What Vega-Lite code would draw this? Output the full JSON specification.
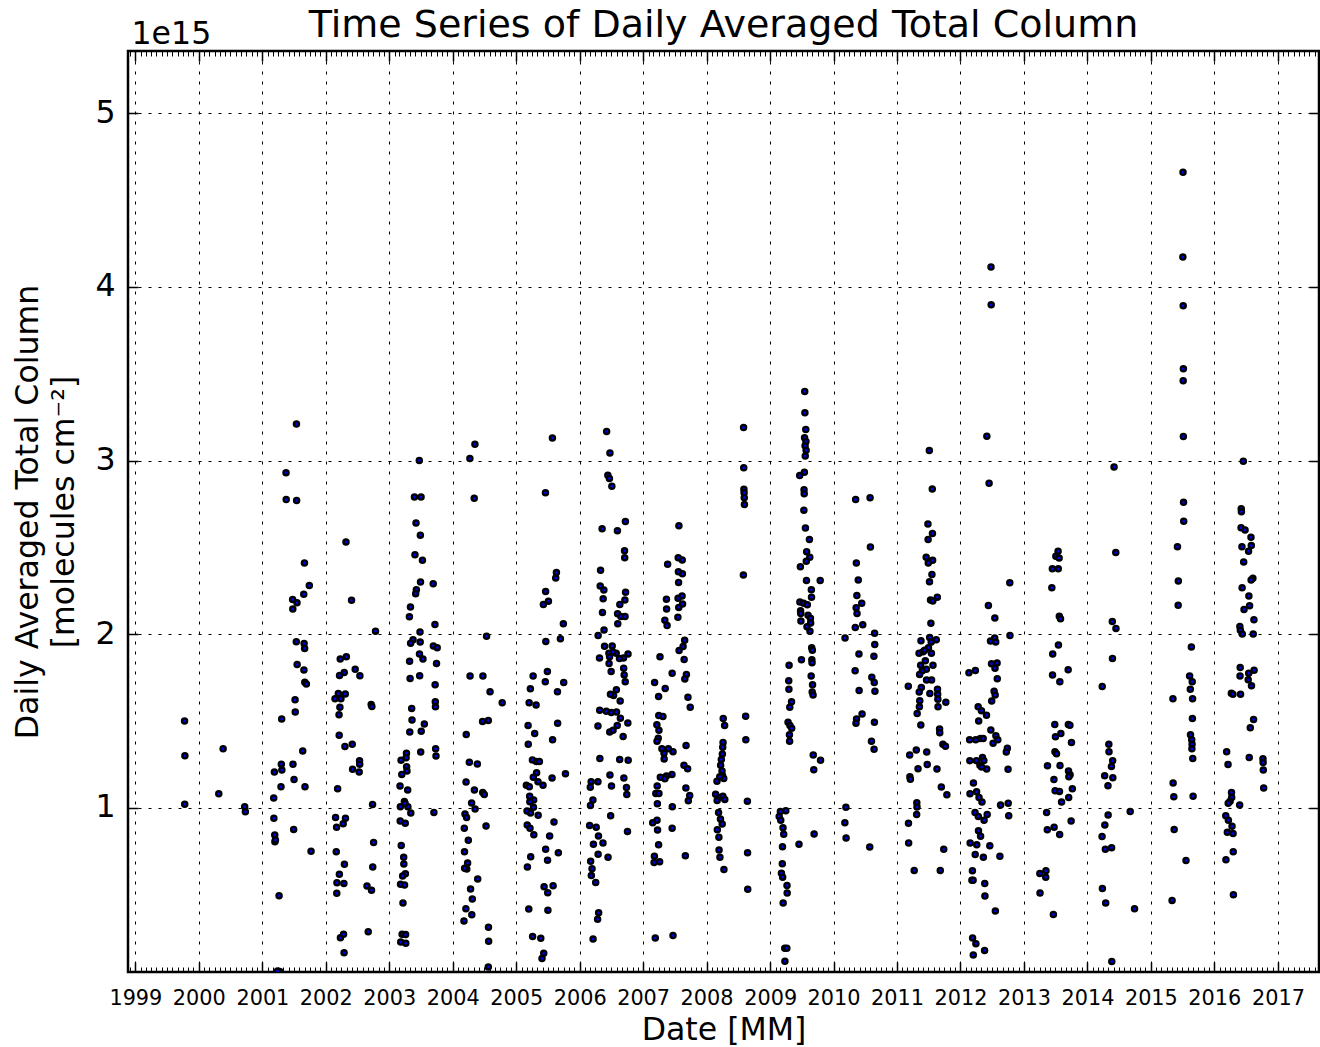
{
  "$schema": "https://vega.github.io/schema/vega-lite/v6.json",
  "autosize": {"type": "none"},
  "padding": {"left": 128, "top": 51, "right": 1, "bottom": 75},
  "width": 1191,
  "height": 921,
  "background": "white",
  "config": {
    "font": "DejaVu Sans",
    "view": {"stroke": "black", "strokeWidth": 2.5},
    "axis": {"labelColor": "black", "titleColor": "black", "tickColor": "black", "titleFontWeight": "normal", "labelFont": "DejaVu Sans", "titleFont": "DejaVu Sans"}
  },
  "title": {"text": "Time Series of Daily Averaged Total Column", "fontSize": 38, "fontWeight": "normal", "color": "black", "anchor": "middle", "frame": "group", "baseline": "alphabetic", "offset": -57},
  "data": {"values": [
    {"date":"1999-10-11","value":1.50e15},{"date":"1999-10-13","value":1.30e15},{"date":"1999-10-12","value":1.02e15},
    {"date":"2000-05-20","value":1.34e15},{"date":"2000-04-25","value":1.08e15},{"date":"2000-09-21","value":1.006e15},{"date":"2000-09-25","value":0.977e15},
    {"date":"2001-07-16","value":3.21e15},{"date":"2001-05-17","value":2.93e15},{"date":"2001-05-18","value":2.775e15},{"date":"2001-07-17","value":2.77e15},{"date":"2001-08-31","value":2.41e15},{"date":"2001-09-28","value":2.28e15},{"date":"2001-08-27","value":2.23e15},{"date":"2001-06-24","value":2.20e15},{"date":"2001-07-19","value":2.18e15},{"date":"2001-06-25","value":2.145e15},{"date":"2001-07-15","value":1.956e15},{"date":"2001-08-29","value":1.946e15},{"date":"2001-09-01","value":1.917e15},{"date":"2001-07-20","value":1.825e15},{"date":"2001-08-28","value":1.793e15},{"date":"2001-09-02","value":1.722e15},{"date":"2001-09-11","value":1.712e15},{"date":"2001-07-08","value":1.622e15},{"date":"2001-07-09","value":1.551e15},{"date":"2001-04-22","value":1.511e15},{"date":"2001-08-21","value":1.327e15},{"date":"2001-04-20","value":1.251e15},{"date":"2001-03-11","value":1.205e15},{"date":"2001-04-23","value":1.217e15},{"date":"2001-06-26","value":1.25e15},{"date":"2001-04-18","value":1.121e15},{"date":"2001-07-02","value":1.163e15},{"date":"2001-09-03","value":1.121e15},{"date":"2001-03-07","value":1.056e15},{"date":"2001-03-08","value":0.939e15},{"date":"2001-06-30","value":0.875e15},{"date":"2001-03-13","value":0.843e15},{"date":"2001-03-14","value":0.804e15},{"date":"2001-03-17","value":0.814e15},{"date":"2001-10-08","value":0.749e15},{"date":"2001-04-07","value":0.493e15},{"date":"2001-04-11","value":0.056e15},{"date":"2001-03-29","value":0.06e15},
    {"date":"2002-04-27","value":2.53e15},{"date":"2002-05-29","value":2.195e15},{"date":"2002-10-14","value":2.017e15},{"date":"2002-03-25","value":1.856e15},{"date":"2002-04-29","value":1.87e15},{"date":"2002-03-21","value":1.762e15},{"date":"2002-04-17","value":1.779e15},{"date":"2002-06-19","value":1.797e15},{"date":"2002-07-16","value":1.76e15},{"date":"2002-03-14","value":1.658e15},{"date":"2002-02-23","value":1.628e15},{"date":"2002-03-29","value":1.628e15},{"date":"2002-04-23","value":1.655e15},{"date":"2002-03-23","value":1.578e15},{"date":"2002-03-18","value":1.536e15},{"date":"2002-09-19","value":1.595e15},{"date":"2002-09-23","value":1.583e15},{"date":"2002-03-19","value":1.417e15},{"date":"2002-04-21","value":1.353e15},{"date":"2002-06-02","value":1.365e15},{"date":"2002-07-14","value":1.271e15},{"date":"2002-07-15","value":1.251e15},{"date":"2002-06-04","value":1.221e15},{"date":"2002-07-12","value":1.205e15},{"date":"2002-03-10","value":1.109e15},{"date":"2002-09-27","value":1.019e15},{"date":"2002-02-26","value":0.944e15},{"date":"2002-04-24","value":0.939e15},{"date":"2002-03-04","value":0.887e15},{"date":"2002-04-11","value":0.908e15},{"date":"2002-03-02","value":0.747e15},{"date":"2002-04-18","value":0.674e15},{"date":"2002-03-20","value":0.616e15},{"date":"2002-03-06","value":0.568e15},{"date":"2002-04-15","value":0.564e15},{"date":"2002-03-05","value":0.507e15},{"date":"2002-10-03","value":0.80e15},{"date":"2002-09-28","value":0.658e15},{"date":"2002-08-26","value":0.549e15},{"date":"2002-09-21","value":0.524e15},{"date":"2002-09-02","value":0.286e15},{"date":"2002-03-26","value":0.251e15},{"date":"2002-04-13","value":0.271e15},{"date":"2002-04-16","value":0.165e15},
    {"date":"2003-06-23","value":3.00e15},{"date":"2003-05-26","value":2.79e15},{"date":"2003-07-03","value":2.79e15},{"date":"2003-06-04","value":2.64e15},{"date":"2003-06-29","value":2.57e15},{"date":"2003-05-29","value":2.457e15},{"date":"2003-07-11","value":2.426e15},{"date":"2003-06-30","value":2.30e15},{"date":"2003-06-06","value":2.256e15},{"date":"2003-06-02","value":2.233e15},{"date":"2003-05-03","value":2.156e15},{"date":"2003-04-27","value":2.10e15},{"date":"2003-06-27","value":2.012e15},{"date":"2003-05-18","value":1.967e15},{"date":"2003-05-04","value":1.948e15},{"date":"2003-06-28","value":1.954e15},{"date":"2003-04-28","value":1.843e15},{"date":"2003-06-24","value":1.885e15},{"date":"2003-07-14","value":1.856e15},{"date":"2003-05-01","value":1.745e15},{"date":"2003-06-25","value":1.76e15},{"date":"2003-05-10","value":1.572e15},{"date":"2003-05-12","value":1.505e15},{"date":"2003-04-29","value":1.436e15},{"date":"2003-07-04","value":1.441e15},{"date":"2003-07-22","value":1.482e15},{"date":"2003-07-01","value":1.321e15},{"date":"2003-04-10","value":1.313e15},{"date":"2003-03-10","value":1.274e15},{"date":"2003-04-08","value":1.288e15},{"date":"2003-04-11","value":1.236e15},{"date":"2003-04-13","value":1.211e15},{"date":"2003-03-14","value":1.192e15},{"date":"2003-03-04","value":1.125e15},{"date":"2003-04-17","value":1.102e15},{"date":"2003-03-29","value":1.036e15},{"date":"2003-03-06","value":1.006e15},{"date":"2003-04-18","value":1.006e15},{"date":"2003-05-05","value":0.969e15},{"date":"2003-04-02","value":1.025e15},{"date":"2003-03-05","value":0.923e15},{"date":"2003-04-03","value":0.910e15},{"date":"2003-03-11","value":0.783e15},{"date":"2003-03-25","value":0.714e15},{"date":"2003-03-26","value":0.676e15},{"date":"2003-04-04","value":0.620e15},{"date":"2003-03-19","value":0.607e15},{"date":"2003-03-07","value":0.559e15},{"date":"2003-03-30","value":0.555e15},{"date":"2003-03-21","value":0.451e15},{"date":"2003-03-16","value":0.271e15},{"date":"2003-04-05","value":0.269e15},{"date":"2003-03-08","value":0.226e15},{"date":"2003-04-06","value":0.219e15},
    {"date":"2003-09-11","value":2.29e15},{"date":"2003-09-21","value":2.055e15},{"date":"2003-09-12","value":1.932e15},{"date":"2003-10-04","value":1.922e15},{"date":"2003-09-30","value":1.831e15},{"date":"2003-09-22","value":1.708e15},{"date":"2003-09-23","value":1.611e15},{"date":"2003-09-24","value":1.581e15},{"date":"2003-09-25","value":1.34e15},{"date":"2003-09-27","value":1.298e15},{"date":"2003-09-15","value":0.973e15},
    {"date":"2004-05-08","value":3.093e15},{"date":"2004-04-09","value":3.011e15},{"date":"2004-05-04","value":2.782e15},{"date":"2004-07-14","value":1.987e15},{"date":"2004-04-10","value":1.759e15},{"date":"2004-06-23","value":1.759e15},{"date":"2004-08-03","value":1.668e15},{"date":"2004-10-12","value":1.605e15},{"date":"2004-06-21","value":1.497e15},{"date":"2004-07-24","value":1.503e15},{"date":"2004-03-19","value":1.421e15},{"date":"2004-04-06","value":1.262e15},{"date":"2004-05-22","value":1.252e15},{"date":"2004-03-18","value":1.148e15},{"date":"2004-05-05","value":1.102e15},{"date":"2004-06-22","value":1.087e15},{"date":"2004-07-01","value":1.076e15},{"date":"2004-04-19","value":1.027e15},{"date":"2004-05-09","value":0.992e15},{"date":"2004-03-12","value":0.964e15},{"date":"2004-03-21","value":0.943e15},{"date":"2004-07-11","value":0.894e15},{"date":"2004-03-08","value":0.882e15},{"date":"2004-03-31","value":0.812e15},{"date":"2004-03-09","value":0.746e15},{"date":"2004-03-27","value":0.681e15},{"date":"2004-03-22","value":0.647e15},{"date":"2004-03-10","value":0.651e15},{"date":"2004-05-24","value":0.590e15},{"date":"2004-04-13","value":0.531e15},{"date":"2004-04-23","value":0.474e15},{"date":"2004-03-17","value":0.418e15},{"date":"2004-04-20","value":0.383e15},{"date":"2004-03-06","value":0.348e15},{"date":"2004-07-25","value":0.311e15},{"date":"2004-07-26","value":0.231e15},{"date":"2004-07-24","value":0.082e15},
    {"date":"2005-07-28","value":3.129e15},{"date":"2005-06-18","value":2.814e15},{"date":"2005-08-20","value":2.355e15},{"date":"2005-08-16","value":2.323e15},{"date":"2005-06-19","value":2.245e15},{"date":"2005-07-05","value":2.19e15},{"date":"2005-06-06","value":2.171e15},{"date":"2005-09-29","value":2.059e15},{"date":"2005-09-12","value":1.973e15},{"date":"2005-06-20","value":1.958e15},{"date":"2005-04-08","value":1.759e15},{"date":"2005-06-29","value":1.784e15},{"date":"2005-06-17","value":1.725e15},{"date":"2005-10-01","value":1.721e15},{"date":"2005-08-26","value":1.668e15},{"date":"2005-03-23","value":1.685e15},{"date":"2005-03-16","value":1.605e15},{"date":"2005-04-25","value":1.592e15},{"date":"2005-08-27","value":1.486e15},{"date":"2005-03-10","value":1.474e15},{"date":"2005-04-17","value":1.427e15},{"date":"2005-03-11","value":1.366e15},{"date":"2005-07-29","value":1.391e15},{"date":"2005-04-04","value":1.275e15},{"date":"2005-04-27","value":1.266e15},{"date":"2005-05-14","value":1.266e15},{"date":"2005-10-11","value":1.195e15},{"date":"2005-04-28","value":1.201e15},{"date":"2005-04-09","value":1.175e15},{"date":"2005-02-28","value":1.129e15},{"date":"2005-03-17","value":1.121e15},{"date":"2005-05-06","value":1.15e15},{"date":"2005-06-04","value":1.129e15},{"date":"2005-07-26","value":1.171e15},{"date":"2005-03-19","value":1.066e15},{"date":"2005-04-11","value":1.044e15},{"date":"2005-03-20","value":1.034e15},{"date":"2005-04-10","value":1.002e15},{"date":"2005-03-04","value":0.981e15},{"date":"2005-03-24","value":0.970e15},{"date":"2005-05-07","value":0.956e15},{"date":"2005-08-06","value":0.918e15},{"date":"2005-03-05","value":0.901e15},{"date":"2005-03-21","value":0.882e15},{"date":"2005-04-12","value":0.844e15},{"date":"2005-07-12","value":0.837e15},{"date":"2005-06-19","value":0.761e15},{"date":"2005-06-30","value":0.698e15},{"date":"2005-08-31","value":0.740e15},{"date":"2005-03-25","value":0.717e15},{"date":"2005-03-06","value":0.658e15},{"date":"2005-06-10","value":0.545e15},{"date":"2005-07-01","value":0.510e15},{"date":"2005-08-01","value":0.550e15},{"date":"2005-03-14","value":0.416e15},{"date":"2005-07-02","value":0.410e15},{"date":"2005-04-05","value":0.258e15},{"date":"2005-05-22","value":0.248e15},{"date":"2005-06-08","value":0.161e15},{"date":"2005-05-29","value":0.131e15},
    {"date":"2006-06-05","value":3.167e15},{"date":"2006-06-24","value":3.044e15},{"date":"2006-06-12","value":2.915e15},{"date":"2006-06-21","value":2.896e15},{"date":"2006-07-05","value":2.852e15},{"date":"2006-09-21","value":2.649e15},{"date":"2006-05-10","value":2.607e15},{"date":"2006-08-06","value":2.596e15},{"date":"2006-09-16","value":2.48e15},{"date":"2006-09-17","value":2.44e15},{"date":"2006-05-01","value":2.368e15},{"date":"2006-04-29","value":2.277e15},{"date":"2006-05-20","value":2.254e15},{"date":"2006-05-16","value":2.203e15},{"date":"2006-09-22","value":2.241e15},{"date":"2006-09-18","value":2.197e15},{"date":"2006-08-20","value":2.171e15},{"date":"2006-05-12","value":2.125e15},{"date":"2006-08-07","value":2.118e15},{"date":"2006-08-26","value":2.101e15},{"date":"2006-09-19","value":2.101e15},{"date":"2006-08-08","value":2.059e15},{"date":"2006-05-21","value":2.023e15},{"date":"2006-04-17","value":1.992e15},{"date":"2006-05-24","value":1.930e15},{"date":"2006-07-07","value":1.932e15},{"date":"2006-06-18","value":1.890e15},{"date":"2006-07-30","value":1.890e15},{"date":"2006-10-06","value":1.886e15},{"date":"2006-04-25","value":1.863e15},{"date":"2006-06-22","value":1.869e15},{"date":"2006-09-10","value":1.863e15},{"date":"2006-07-11","value":1.897e15},{"date":"2006-08-18","value":1.859e15},{"date":"2006-06-19","value":1.831e15},{"date":"2006-07-01","value":1.784e15},{"date":"2006-09-11","value":1.803e15},{"date":"2006-09-14","value":1.765e15},{"date":"2006-09-20","value":1.725e15},{"date":"2006-07-31","value":1.679e15},{"date":"2006-07-15","value":1.647e15},{"date":"2006-08-22","value":1.615e15},{"date":"2006-06-27","value":1.653e15},{"date":"2006-04-26","value":1.562e15},{"date":"2006-06-03","value":1.555e15},{"date":"2006-07-02","value":1.548e15},{"date":"2006-08-01","value":1.552e15},{"date":"2006-04-16","value":1.471e15},{"date":"2006-10-05","value":1.488e15},{"date":"2006-08-23","value":1.516e15},{"date":"2006-08-05","value":1.474e15},{"date":"2006-06-23","value":1.436e15},{"date":"2006-07-12","value":1.446e15},{"date":"2006-09-08","value":1.410e15},{"date":"2006-04-27","value":1.283e15},{"date":"2006-08-19","value":1.277e15},{"date":"2006-10-07","value":1.273e15},{"date":"2006-06-24","value":1.188e15},{"date":"2006-07-03","value":1.125e15},{"date":"2006-09-12","value":1.171e15},{"date":"2006-09-27","value":1.116e15},{"date":"2006-09-29","value":1.076e15},{"date":"2006-03-08","value":1.150e15},{"date":"2006-03-03","value":1.118e15},{"date":"2006-04-16","value":1.150e15},{"date":"2006-03-18","value":1.044e15},{"date":"2006-03-04","value":1.013e15},{"date":"2006-06-28","value":0.953e15},{"date":"2006-10-03","value":0.863e15},{"date":"2006-02-27","value":0.898e15},{"date":"2006-04-06","value":0.888e15},{"date":"2006-04-19","value":0.837e15},{"date":"2006-05-15","value":0.797e15},{"date":"2006-03-21","value":0.789e15},{"date":"2006-04-17","value":0.732e15},{"date":"2006-06-13","value":0.715e15},{"date":"2006-03-05","value":0.691e15},{"date":"2006-03-13","value":0.649e15},{"date":"2006-03-09","value":0.609e15},{"date":"2006-04-03","value":0.569e15},{"date":"2006-04-20","value":0.395e15},{"date":"2006-04-14","value":0.357e15},{"date":"2006-03-19","value":0.243e15},
    {"date":"2007-07-26","value":2.624e15},{"date":"2007-05-22","value":2.402e15},{"date":"2007-07-22","value":2.440e15},{"date":"2007-08-14","value":2.427e15},{"date":"2007-07-23","value":2.359e15},{"date":"2007-08-15","value":2.347e15},{"date":"2007-07-24","value":2.298e15},{"date":"2007-05-15","value":2.201e15},{"date":"2007-05-16","value":2.144e15},{"date":"2007-05-06","value":2.080e15},{"date":"2007-05-19","value":2.049e15},{"date":"2007-07-21","value":2.207e15},{"date":"2007-08-16","value":2.173e15},{"date":"2007-07-25","value":2.154e15},{"date":"2007-08-13","value":2.220e15},{"date":"2007-07-20","value":2.097e15},{"date":"2007-08-28","value":1.964e15},{"date":"2007-08-19","value":1.928e15},{"date":"2007-07-27","value":1.905e15},{"date":"2007-08-25","value":1.854e15},{"date":"2007-04-08","value":1.869e15},{"date":"2007-06-17","value":1.774e15},{"date":"2007-09-07","value":1.767e15},{"date":"2007-08-29","value":1.742e15},{"date":"2007-03-08","value":1.721e15},{"date":"2007-05-08","value":1.687e15},{"date":"2007-03-31","value":1.640e15},{"date":"2007-09-16","value":1.636e15},{"date":"2007-09-29","value":1.579e15},{"date":"2007-04-01","value":1.531e15},{"date":"2007-04-25","value":1.526e15},{"date":"2007-03-21","value":1.478e15},{"date":"2007-04-02","value":1.446e15},{"date":"2007-03-29","value":1.400e15},{"date":"2007-03-22","value":1.383e15},{"date":"2007-09-05","value":1.359e15},{"date":"2007-04-19","value":1.340e15},{"date":"2007-05-26","value":1.340e15},{"date":"2007-06-22","value":1.323e15},{"date":"2007-05-01","value":1.313e15},{"date":"2007-05-02","value":1.281e15},{"date":"2007-08-24","value":1.245e15},{"date":"2007-09-14","value":1.224e15},{"date":"2007-04-10","value":1.175e15},{"date":"2007-05-15","value":1.182e15},{"date":"2007-06-16","value":1.192e15},{"date":"2007-05-06","value":1.167e15},{"date":"2007-09-04","value":1.114e15},{"date":"2007-09-26","value":1.070e15},{"date":"2007-09-18","value":1.040e15},{"date":"2007-03-23","value":1.125e15},{"date":"2007-03-15","value":1.082e15},{"date":"2007-04-02","value":1.082e15},{"date":"2007-03-24","value":1.023e15},{"date":"2007-06-18","value":1.006e15},{"date":"2007-03-22","value":0.928e15},{"date":"2007-02-25","value":0.913e15},{"date":"2007-03-25","value":0.871e15},{"date":"2007-06-17","value":0.882e15},{"date":"2007-03-31","value":0.786e15},{"date":"2007-09-01","value":0.723e15},{"date":"2007-03-07","value":0.721e15},{"date":"2007-03-05","value":0.685e15},{"date":"2007-04-06","value":0.689e15},{"date":"2007-03-12","value":0.250e15},{"date":"2007-06-22","value":0.264e15},
    {"date":"2008-08-01","value":3.190e15},{"date":"2008-08-02","value":2.958e15},{"date":"2008-08-03","value":2.834e15},{"date":"2008-08-04","value":2.814e15},{"date":"2008-08-05","value":2.786e15},{"date":"2008-08-06","value":2.746e15},{"date":"2008-07-31","value":2.340e15},{"date":"2008-04-06","value":1.514e15},{"date":"2008-04-14","value":1.474e15},{"date":"2008-08-13","value":1.527e15},{"date":"2008-04-05","value":1.376e15},{"date":"2008-04-03","value":1.348e15},{"date":"2008-04-01","value":1.310e15},{"date":"2008-03-26","value":1.278e15},{"date":"2008-03-22","value":1.245e15},{"date":"2008-03-30","value":1.212e15},{"date":"2008-04-02","value":1.184e15},{"date":"2008-04-09","value":1.168e15},{"date":"2008-08-14","value":1.391e15},{"date":"2008-03-01","value":1.153e15},{"date":"2008-03-17","value":1.179e15},{"date":"2008-02-22","value":1.077e15},{"date":"2008-03-16","value":1.059e15},{"date":"2008-04-04","value":1.066e15},{"date":"2008-04-15","value":1.048e15},{"date":"2008-03-02","value":1.042e15},{"date":"2008-03-10","value":0.972e15},{"date":"2008-03-21","value":0.935e15},{"date":"2008-03-31","value":0.906e15},{"date":"2008-03-03","value":0.873e15},{"date":"2008-03-12","value":0.830e15},{"date":"2008-08-23","value":1.037e15},{"date":"2008-03-13","value":0.757e15},{"date":"2008-03-18","value":0.714e15},{"date":"2008-04-10","value":0.644e15},{"date":"2008-08-24","value":0.740e15},{"date":"2008-08-25","value":0.530e15},
    {"date":"2009-07-19","value":3.398e15},{"date":"2009-07-20","value":3.275e15},{"date":"2009-07-25","value":3.179e15},{"date":"2009-07-18","value":3.131e15},{"date":"2009-07-26","value":3.109e15},{"date":"2009-07-21","value":3.085e15},{"date":"2009-07-27","value":3.059e15},{"date":"2009-07-22","value":3.026e15},{"date":"2009-06-20","value":2.913e15},{"date":"2009-07-17","value":2.932e15},{"date":"2009-07-15","value":2.832e15},{"date":"2009-07-16","value":2.808e15},{"date":"2009-07-14","value":2.714e15},{"date":"2009-07-23","value":2.611e15},{"date":"2009-08-15","value":2.545e15},{"date":"2009-07-30","value":2.475e15},{"date":"2009-08-17","value":2.443e15},{"date":"2009-07-28","value":2.419e15},{"date":"2009-06-24","value":2.388e15},{"date":"2009-07-29","value":2.309e15},{"date":"2009-10-16","value":2.309e15},{"date":"2009-08-26","value":2.255e15},{"date":"2009-08-27","value":2.213e15},{"date":"2009-06-21","value":2.185e15},{"date":"2009-07-13","value":2.178e15},{"date":"2009-08-03","value":2.169e15},{"date":"2009-06-25","value":2.134e15},{"date":"2009-06-26","value":2.119e15},{"date":"2009-08-07","value":2.108e15},{"date":"2009-06-27","value":2.075e15},{"date":"2009-08-21","value":2.091e15},{"date":"2009-08-22","value":2.064e15},{"date":"2009-08-01","value":2.043e15},{"date":"2009-08-18","value":2.016e15},{"date":"2009-08-28","value":1.922e15},{"date":"2009-09-01","value":1.907e15},{"date":"2009-06-30","value":1.852e15},{"date":"2009-08-29","value":1.852e15},{"date":"2009-08-30","value":1.835e15},{"date":"2009-08-25","value":1.758e15},{"date":"2009-09-02","value":1.708e15},{"date":"2009-08-31","value":1.667e15},{"date":"2009-09-05","value":1.649e15},{"date":"2009-04-20","value":1.820e15},{"date":"2009-04-18","value":1.732e15},{"date":"2009-04-19","value":1.682e15},{"date":"2009-05-04","value":1.610e15},{"date":"2009-04-24","value":1.579e15},{"date":"2009-04-14","value":1.492e15},{"date":"2009-04-25","value":1.474e15},{"date":"2009-05-05","value":1.457e15},{"date":"2009-04-22","value":1.420e15},{"date":"2009-04-23","value":1.383e15},{"date":"2009-09-06","value":1.304e15},{"date":"2009-10-18","value":1.273e15},{"date":"2009-09-09","value":1.219e15},{"date":"2009-04-01","value":0.983e15},{"date":"2009-03-01","value":0.978e15},{"date":"2009-02-22","value":0.950e15},{"date":"2009-03-03","value":0.928e15},{"date":"2009-03-16","value":0.884e15},{"date":"2009-03-20","value":0.847e15},{"date":"2009-03-13","value":0.775e15},{"date":"2009-06-16","value":0.790e15},{"date":"2009-09-11","value":0.849e15},{"date":"2009-03-12","value":0.677e15},{"date":"2009-03-07","value":0.622e15},{"date":"2009-03-14","value":0.600e15},{"date":"2009-04-08","value":0.552e15},{"date":"2009-04-09","value":0.508e15},{"date":"2009-03-17","value":0.451e15},{"date":"2009-03-26","value":0.191e15},{"date":"2009-04-07","value":0.191e15},{"date":"2009-03-27","value":0.115e15},
    {"date":"2010-05-08","value":2.775e15},{"date":"2010-07-30","value":2.786e15},{"date":"2010-08-01","value":2.502e15},{"date":"2010-05-12","value":2.410e15},{"date":"2010-05-23","value":2.311e15},{"date":"2010-05-15","value":2.222e15},{"date":"2010-06-12","value":2.178e15},{"date":"2010-05-11","value":2.152e15},{"date":"2010-05-16","value":2.119e15},{"date":"2010-06-18","value":2.054e15},{"date":"2010-05-06","value":2.038e15},{"date":"2010-03-08","value":1.977e15},{"date":"2010-08-25","value":2.005e15},{"date":"2010-08-26","value":1.940e15},{"date":"2010-08-21","value":1.872e15},{"date":"2010-05-27","value":1.885e15},{"date":"2010-05-05","value":1.789e15},{"date":"2010-08-09","value":1.752e15},{"date":"2010-08-23","value":1.721e15},{"date":"2010-05-28","value":1.675e15},{"date":"2010-08-27","value":1.671e15},{"date":"2010-06-14","value":1.540e15},{"date":"2010-05-13","value":1.511e15},{"date":"2010-05-10","value":1.487e15},{"date":"2010-08-24","value":1.492e15},{"date":"2010-08-07","value":1.383e15},{"date":"2010-08-22","value":1.337e15},{"date":"2010-03-13","value":1.002e15},{"date":"2010-03-07","value":0.913e15},{"date":"2010-03-14","value":0.825e15},{"date":"2010-07-28","value":0.773e15},
    {"date":"2011-07-06","value":3.057e15},{"date":"2011-07-23","value":2.836e15},{"date":"2011-06-28","value":2.635e15},{"date":"2011-07-24","value":2.580e15},{"date":"2011-06-29","value":2.545e15},{"date":"2011-06-18","value":2.443e15},{"date":"2011-07-25","value":2.425e15},{"date":"2011-06-30","value":2.410e15},{"date":"2011-07-21","value":2.344e15},{"date":"2011-07-07","value":2.301e15},{"date":"2011-07-13","value":2.196e15},{"date":"2011-08-21","value":2.213e15},{"date":"2011-07-26","value":2.191e15},{"date":"2011-07-15","value":2.062e15},{"date":"2011-05-19","value":1.962e15},{"date":"2011-07-08","value":1.981e15},{"date":"2011-08-15","value":1.968e15},{"date":"2011-07-17","value":1.955e15},{"date":"2011-05-08","value":1.890e15},{"date":"2011-05-31","value":1.899e15},{"date":"2011-07-01","value":1.922e15},{"date":"2011-07-18","value":1.890e15},{"date":"2011-06-09","value":1.907e15},{"date":"2011-06-13","value":1.846e15},{"date":"2011-05-17","value":1.820e15},{"date":"2011-07-27","value":1.820e15},{"date":"2011-05-27","value":1.789e15},{"date":"2011-06-19","value":1.798e15},{"date":"2011-05-11","value":1.768e15},{"date":"2011-07-19","value":1.736e15},{"date":"2011-06-20","value":1.736e15},{"date":"2011-05-21","value":1.692e15},{"date":"2011-05-09","value":1.666e15},{"date":"2011-08-22","value":1.682e15},{"date":"2011-08-23","value":1.653e15},{"date":"2011-07-09","value":1.658e15},{"date":"2011-05-12","value":1.616e15},{"date":"2011-08-24","value":1.625e15},{"date":"2011-08-25","value":1.581e15},{"date":"2011-10-09","value":1.607e15},{"date":"2011-05-10","value":1.581e15},{"date":"2011-04-27","value":1.542e15},{"date":"2011-05-18","value":1.476e15},{"date":"2011-09-03","value":1.453e15},{"date":"2011-09-04","value":1.432e15},{"date":"2011-03-07","value":1.700e15},{"date":"2011-04-22","value":1.332e15},{"date":"2011-03-15","value":1.304e15},{"date":"2011-06-21","value":1.321e15},{"date":"2011-09-22","value":1.365e15},{"date":"2011-10-07","value":1.354e15},{"date":"2011-05-02","value":1.225e15},{"date":"2011-06-24","value":1.249e15},{"date":"2011-08-19","value":1.223e15},{"date":"2011-03-16","value":1.179e15},{"date":"2011-03-19","value":1.164e15},{"date":"2011-09-13","value":1.120e15},{"date":"2011-10-15","value":1.074e15},{"date":"2011-04-25","value":1.028e15},{"date":"2011-04-26","value":1.004e15},{"date":"2011-04-24","value":0.961e15},{"date":"2011-03-08","value":0.910e15},{"date":"2011-03-09","value":0.797e15},{"date":"2011-09-27","value":0.760e15},{"date":"2011-04-10","value":0.639e15},{"date":"2011-09-07","value":0.639e15},
    {"date":"2012-06-25","value":4.115e15},{"date":"2012-06-26","value":3.897e15},{"date":"2012-06-01","value":3.140e15},{"date":"2012-06-14","value":2.869e15},{"date":"2012-10-11","value":2.296e15},{"date":"2012-06-10","value":2.165e15},{"date":"2012-07-17","value":2.093e15},{"date":"2012-10-12","value":1.992e15},{"date":"2012-06-22","value":1.960e15},{"date":"2012-07-16","value":1.977e15},{"date":"2012-07-22","value":1.955e15},{"date":"2012-07-30","value":1.833e15},{"date":"2012-06-28","value":1.829e15},{"date":"2012-07-18","value":1.803e15},{"date":"2012-02-19","value":1.777e15},{"date":"2012-03-27","value":1.790e15},{"date":"2012-07-31","value":1.743e15},{"date":"2012-07-13","value":1.671e15},{"date":"2012-07-19","value":1.649e15},{"date":"2012-06-29","value":1.614e15},{"date":"2012-04-12","value":1.581e15},{"date":"2012-05-01","value":1.559e15},{"date":"2012-05-30","value":1.533e15},{"date":"2012-04-15","value":1.500e15},{"date":"2012-06-24","value":1.448e15},{"date":"2012-07-23","value":1.415e15},{"date":"2012-08-03","value":1.391e15},{"date":"2012-07-07","value":1.372e15},{"date":"2012-02-23","value":1.391e15},{"date":"2012-03-29","value":1.391e15},{"date":"2012-04-25","value":1.398e15},{"date":"2012-05-11","value":1.398e15},{"date":"2012-09-27","value":1.343e15},{"date":"2012-09-21","value":1.321e15},{"date":"2012-05-07","value":1.289e15},{"date":"2012-05-15","value":1.271e15},{"date":"2012-02-24","value":1.271e15},{"date":"2012-04-02","value":1.271e15},{"date":"2012-04-22","value":1.245e15},{"date":"2012-05-31","value":1.223e15},{"date":"2012-05-02","value":1.234e15},{"date":"2012-10-01","value":1.221e15},{"date":"2012-03-16","value":1.142e15},{"date":"2012-02-25","value":1.081e15},{"date":"2012-04-03","value":1.092e15},{"date":"2012-04-17","value":1.059e15},{"date":"2012-05-04","value":1.033e15},{"date":"2012-08-19","value":1.015e15},{"date":"2012-10-02","value":1.026e15},{"date":"2012-10-05","value":0.954e15},{"date":"2012-03-25","value":0.972e15},{"date":"2012-04-13","value":0.950e15},{"date":"2012-05-16","value":0.928e15},{"date":"2012-06-03","value":0.961e15},{"date":"2012-04-14","value":0.867e15},{"date":"2012-04-26","value":0.836e15},{"date":"2012-02-26","value":0.797e15},{"date":"2012-04-04","value":0.786e15},{"date":"2012-06-18","value":0.781e15},{"date":"2012-03-26","value":0.731e15},{"date":"2012-05-12","value":0.714e15},{"date":"2012-08-15","value":0.720e15},{"date":"2012-03-10","value":0.637e15},{"date":"2012-03-07","value":0.582e15},{"date":"2012-03-14","value":0.582e15},{"date":"2012-05-20","value":0.563e15},{"date":"2012-05-21","value":0.491e15},{"date":"2012-07-20","value":0.405e15},{"date":"2012-03-11","value":0.250e15},{"date":"2012-03-30","value":0.217e15},{"date":"2012-03-15","value":0.152e15},{"date":"2012-05-19","value":0.178e15},
    {"date":"2013-07-16","value":2.477e15},{"date":"2013-07-03","value":2.449e15},{"date":"2013-07-22","value":2.438e15},{"date":"2013-06-13","value":2.376e15},{"date":"2013-07-17","value":2.376e15},{"date":"2013-06-10","value":2.267e15},{"date":"2013-07-23","value":2.103e15},{"date":"2013-07-30","value":2.088e15},{"date":"2013-07-18","value":1.937e15},{"date":"2013-06-15","value":1.886e15},{"date":"2013-06-14","value":1.764e15},{"date":"2013-07-26","value":1.726e15},{"date":"2013-09-12","value":1.794e15},{"date":"2013-06-27","value":1.479e15},{"date":"2013-07-01","value":1.409e15},{"date":"2013-08-01","value":1.427e15},{"date":"2013-09-13","value":1.479e15},{"date":"2013-09-22","value":1.475e15},{"date":"2013-10-01","value":1.376e15},{"date":"2013-06-28","value":1.322e15},{"date":"2013-07-07","value":1.311e15},{"date":"2013-05-16","value":1.241e15},{"date":"2013-07-27","value":1.243e15},{"date":"2013-09-14","value":1.212e15},{"date":"2013-09-23","value":1.190e15},{"date":"2013-09-16","value":1.179e15},{"date":"2013-06-22","value":1.162e15},{"date":"2013-06-29","value":1.098e15},{"date":"2013-07-24","value":1.094e15},{"date":"2013-08-05","value":1.033e15},{"date":"2013-09-15","value":1.059e15},{"date":"2013-10-06","value":1.109e15},{"date":"2013-05-11","value":0.972e15},{"date":"2013-05-15","value":0.873e15},{"date":"2013-06-23","value":0.888e15},{"date":"2013-07-25","value":0.845e15},{"date":"2013-09-29","value":0.923e15},{"date":"2013-04-02","value":0.621e15},{"date":"2013-05-07","value":0.637e15},{"date":"2013-05-06","value":0.600e15},{"date":"2013-04-03","value":0.508e15},{"date":"2013-06-19","value":0.385e15},
    {"date":"2014-06-03","value":2.963e15},{"date":"2014-06-13","value":2.470e15},{"date":"2014-05-24","value":2.072e15},{"date":"2014-06-14","value":2.033e15},{"date":"2014-05-25","value":1.860e15},{"date":"2014-03-27","value":1.698e15},{"date":"2014-05-04","value":1.365e15},{"date":"2014-05-05","value":1.322e15},{"date":"2014-05-26","value":1.271e15},{"date":"2014-05-19","value":1.238e15},{"date":"2014-04-10","value":1.184e15},{"date":"2014-05-27","value":1.173e15},{"date":"2014-04-29","value":1.127e15},{"date":"2014-09-04","value":0.978e15},{"date":"2014-04-30","value":0.958e15},{"date":"2014-04-11","value":0.901e15},{"date":"2014-03-26","value":0.834e15},{"date":"2014-04-14","value":0.761e15},{"date":"2014-05-20","value":0.770e15},{"date":"2014-03-28","value":0.534e15},{"date":"2014-04-16","value":0.451e15},{"date":"2014-09-29","value":0.418e15},{"date":"2014-05-21","value":0.114e15},
    {"date":"2015-07-05","value":4.660e15},{"date":"2015-07-04","value":4.172e15},{"date":"2015-07-06","value":3.892e15},{"date":"2015-07-07","value":3.529e15},{"date":"2015-07-06","value":3.460e15},{"date":"2015-07-07","value":3.138e15},{"date":"2015-07-08","value":2.759e15},{"date":"2015-07-09","value":2.650e15},{"date":"2015-06-03","value":2.503e15},{"date":"2015-06-08","value":2.306e15},{"date":"2015-06-07","value":2.166e15},{"date":"2015-08-22","value":1.926e15},{"date":"2015-05-08","value":1.628e15},{"date":"2015-08-12","value":1.759e15},{"date":"2015-08-27","value":1.726e15},{"date":"2015-08-16","value":1.683e15},{"date":"2015-08-29","value":1.628e15},{"date":"2015-08-28","value":1.514e15},{"date":"2015-08-17","value":1.420e15},{"date":"2015-08-24","value":1.392e15},{"date":"2015-08-26","value":1.365e15},{"date":"2015-08-25","value":1.339e15},{"date":"2015-08-30","value":1.284e15},{"date":"2015-05-09","value":1.142e15},{"date":"2015-05-13","value":1.063e15},{"date":"2015-09-01","value":1.066e15},{"date":"2015-05-15","value":0.874e15},{"date":"2015-07-22","value":0.696e15},{"date":"2015-05-03","value":0.466e15},
    {"date":"2016-06-16","value":2.996e15},{"date":"2016-06-04","value":2.722e15},{"date":"2016-06-05","value":2.705e15},{"date":"2016-06-03","value":2.613e15},{"date":"2016-06-26","value":2.600e15},{"date":"2016-07-30","value":2.558e15},{"date":"2016-08-01","value":2.510e15},{"date":"2016-07-16","value":2.477e15},{"date":"2016-06-08","value":2.503e15},{"date":"2016-06-18","value":2.416e15},{"date":"2016-08-10","value":2.322e15},{"date":"2016-07-31","value":2.311e15},{"date":"2016-06-09","value":2.267e15},{"date":"2016-07-18","value":2.219e15},{"date":"2016-07-22","value":2.164e15},{"date":"2016-06-20","value":2.142e15},{"date":"2016-08-16","value":2.083e15},{"date":"2016-05-27","value":2.044e15},{"date":"2016-05-30","value":2.022e15},{"date":"2016-06-10","value":2.000e15},{"date":"2016-08-12","value":2.000e15},{"date":"2016-08-17","value":1.792e15},{"date":"2016-05-29","value":1.807e15},{"date":"2016-07-17","value":1.775e15},{"date":"2016-05-28","value":1.759e15},{"date":"2016-07-14","value":1.737e15},{"date":"2016-08-02","value":1.702e15},{"date":"2016-04-08","value":1.659e15},{"date":"2016-04-17","value":1.654e15},{"date":"2016-05-31","value":1.654e15},{"date":"2016-08-14","value":1.508e15},{"date":"2016-07-26","value":1.460e15},{"date":"2016-03-12","value":1.322e15},{"date":"2016-03-20","value":1.249e15},{"date":"2016-07-20","value":1.289e15},{"date":"2016-10-07","value":1.282e15},{"date":"2016-10-08","value":1.260e15},{"date":"2016-10-09","value":1.217e15},{"date":"2016-10-11","value":1.114e15},{"date":"2016-04-09","value":1.088e15},{"date":"2016-04-10","value":1.059e15},{"date":"2016-04-01","value":1.037e15},{"date":"2016-03-21","value":1.026e15},{"date":"2016-05-26","value":1.015e15},{"date":"2016-03-07","value":0.954e15},{"date":"2016-03-22","value":0.928e15},{"date":"2016-04-12","value":0.893e15},{"date":"2016-03-16","value":0.858e15},{"date":"2016-04-18","value":0.851e15},{"date":"2016-04-19","value":0.746e15},{"date":"2016-03-08","value":0.700e15},{"date":"2016-04-20","value":0.499e15}
  ]},
  "resolve": {"axis": {"x": "independent", "y": "independent"}},
  "layer": [
    {
      "mark": {"type": "circle", "size": 26, "fill": "#0000ff", "stroke": "#000000", "strokeWidth": 2.4, "opacity": 1, "fillOpacity": 1, "clip": true},
      "encoding": {
        "x": {"field": "date", "type": "temporal",
          "scale": {"type": "utc", "domain": [{"year": 1998, "month": 11, "date": 19, "hours": 14, "utc": true}, {"year": 2017, "month": 8, "date": 25, "hours": 12, "utc": true}]},
          "axis": {"orient": "bottom", "tickCount": {"interval": "year", "step": 1}, "format": "%Y", "labelFontSize": 20.8, "labelPadding": 26, "labelFlush": false, "labelOverlap": false, "tickSize": -10, "tickWidth": 1.5, "domain": false, "grid": true, "gridColor": "black", "gridDash": [3, 7], "gridWidth": 1, "gridOpacity": 1, "title": "Date [MM]", "titleFontSize": 31.6, "titlePadding": 7}},
        "y": {"field": "value", "type": "quantitative",
          "scale": {"domain": [0.0536e15, 5.359e15], "nice": false, "zero": false},
          "axis": {"orient": "left", "values": [1e15, 2e15, 3e15, 4e15, 5e15], "labelExpr": "format(datum.value / 1e15, 'd')", "labelFontSize": 31.6, "labelPadding": 23, "tickSize": -10, "tickWidth": 1.5, "domain": false, "grid": true, "gridColor": "black", "gridDash": [3, 7], "gridWidth": 1, "gridOpacity": 1, "title": ["Daily Averaged Total Column", "[molecules cm⁻²]"], "titleFontSize": 31.6, "titleLineHeight": 36, "titlePadding": 14}}
      }
    },
    {
      "mark": {"type": "point", "opacity": 0},
      "encoding": {
        "x": {"field": "date", "type": "temporal", "axis": {"orient": "top", "tickCount": {"interval": "year", "step": 1}, "labels": false, "tickSize": -10, "tickWidth": 1.5, "domain": false, "grid": false, "title": "1e15", "titleFontSize": 31.6, "titleAnchor": "start", "titleAlign": "left", "titleAngle": 0, "titleX": 3, "titleY": -8, "titleBaseline": "alphabetic"}},
        "y": {"field": "value", "type": "quantitative", "axis": {"orient": "right", "values": [1e15, 2e15, 3e15, 4e15, 5e15], "labels": false, "tickSize": -10, "tickWidth": 1.5, "domain": false, "grid": false, "title": null}}
      }
    },
    {
      "mark": {"type": "point", "opacity": 0},
      "encoding": {
        "x": {"field": "date", "type": "temporal", "axis": {"orient": "bottom", "tickCount": {"interval": "month", "step": 1}, "labels": false, "tickSize": -5, "tickWidth": 1, "domain": false, "grid": false, "title": null}},
        "y": {"field": "value", "type": "quantitative", "axis": null}
      }
    },
    {
      "mark": {"type": "point", "opacity": 0},
      "encoding": {
        "x": {"field": "date", "type": "temporal", "axis": {"orient": "top", "tickCount": {"interval": "month", "step": 1}, "labels": false, "tickSize": -5, "tickWidth": 1, "domain": false, "grid": false, "title": null}},
        "y": {"field": "value", "type": "quantitative", "axis": null}
      }
    }
  ]
}
